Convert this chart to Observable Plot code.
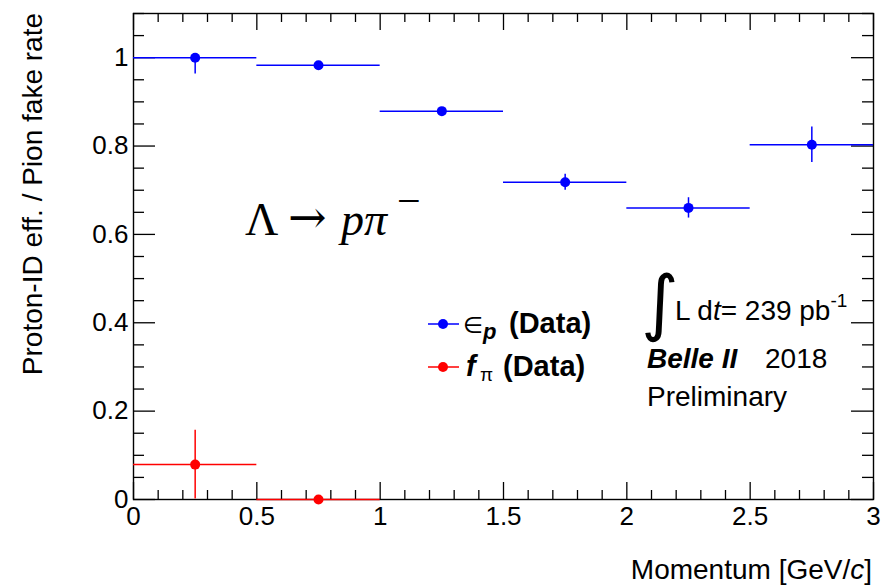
<!DOCTYPE html>
<html><head><meta charset="utf-8">
<script src="https://cdn.jsdelivr.net/npm/d3@7"></script>
<script src="https://cdn.jsdelivr.net/npm/@observablehq/plot@0.6"></script>
<style>
body{margin:0;background:#fff}
svg{font-family:"Liberation Sans",Arial,Helvetica,sans-serif}
</style>
</head><body><div id="chart"></div>
<script>
// Momentum bins (GeV/c)
const binLow    = [0, 0.5, 1.0, 1.5, 2.0, 2.5];
const binHigh   = [0.5, 1.0, 1.5, 2.0, 2.5, 3.0];
const binCenter = [0.25, 0.75, 1.25, 1.75, 2.25, 2.75];
// Proton-ID efficiency (Data)
const protonEff     = [1.000, 0.983, 0.879, 0.718, 0.660, 0.803];
const protonErrLow  = [0.037, 0.005, 0.005, 0.018, 0.023, 0.040];
const protonErrHigh = [0.000, 0.005, 0.005, 0.018, 0.023, 0.040];
// Pion fake rate (Data), first two bins
const pionFake    = [0.079, 0.000];
const pionErrLow  = [0.078, 0.000];
const pionErrHigh = [0.078, 0.000];
// Axis ticks
const xTicks = [0, 0.5, 1, 1.5, 2, 2.5, 3];
const yTicks = [0, 0.2, 0.4, 0.6, 0.8, 1];
const xMinor = d3.range(0, 31).map(i => i / 10).filter(v => !xTicks.some(t => Math.abs(t - v) < 1e-9));
const yMinor = d3.range(0, 23).map(i => i / 20).filter(v => !yTicks.some(t => Math.abs(t - v) < 1e-9));

const proton = binCenter.map((c, i) => ({x: c, x1: binLow[i], x2: binHigh[i], y: protonEff[i], lo: protonEff[i] - protonErrLow[i], hi: protonEff[i] + protonErrHigh[i]}));
const pion = pionFake.map((v, i) => ({x: binCenter[i], x1: binLow[i], x2: binHigh[i], y: v, lo: v - pionErrLow[i], hi: v + pionErrHigh[i]}));

const W = 886, H = 585, mT = 13, mR = 13, mB = 86, mL = 133;
const PH = H - mT - mB, PW = W - mL - mR;
const BLUE = "#0000ff", RED = "#ff0000";

const chart = Plot.plot({
  width: W, height: H,
  marginTop: mT, marginRight: mR, marginBottom: mB, marginLeft: mL,
  x: {domain: [0, 3]},
  y: {domain: [0, 1.1]},
  style: {color: "black", background: "white"},
  marks: [
    Plot.frame({stroke: "black", strokeWidth: 1.4}),
    // inner ticks (ROOT style)
    Plot.tickX(xTicks, {x: d => d, insetTop: PH - 17, stroke: "black", strokeWidth: 1.3}),
    Plot.tickX(xMinor, {x: d => d, insetTop: PH - 9, stroke: "black", strokeWidth: 1.3}),
    Plot.tickX(xTicks, {x: d => d, insetBottom: PH - 17, stroke: "black", strokeWidth: 1.3}),
    Plot.tickX(xMinor, {x: d => d, insetBottom: PH - 9, stroke: "black", strokeWidth: 1.3}),
    Plot.tickY(yTicks, {y: d => d, insetRight: PW - 22, stroke: "black", strokeWidth: 1.3}),
    Plot.tickY(yMinor, {y: d => d, insetRight: PW - 11, stroke: "black", strokeWidth: 1.3}),
    Plot.tickY(yTicks, {y: d => d, insetLeft: PW - 22, stroke: "black", strokeWidth: 1.3}),
    Plot.tickY(yMinor, {y: d => d, insetLeft: PW - 11, stroke: "black", strokeWidth: 1.3}),
    Plot.axisX(xTicks, {tickSize: 0, tickPadding: 7, fontSize: 26, tickFormat: d => String(d), label: null}),
    Plot.axisY(yTicks, {tickSize: 0, tickPadding: 5, fontSize: 26, tickFormat: d => String(d), label: null}),
    // proton efficiency
    Plot.ruleY(proton, {y: "y", x1: "x1", x2: "x2", stroke: BLUE, strokeWidth: 1.5}),
    Plot.ruleX(proton, {x: "x", y1: "lo", y2: "hi", stroke: BLUE, strokeWidth: 1.5}),
    Plot.dot(proton, {x: "x", y: "y", r: 5, fill: BLUE}),
    // pion fake rate
    Plot.ruleY(pion, {y: "y", x1: "x1", x2: "x2", stroke: RED, strokeWidth: 1.5}),
    Plot.ruleX(pion, {x: "x", y1: "lo", y2: "hi", stroke: RED, strokeWidth: 1.5}),
    Plot.dot(pion, {x: "x", y: "y", r: 5, fill: RED})
  ]
});
document.getElementById("chart").appendChild(chart);

const svg = d3.select(chart);
const g = svg.append("g").attr("fill", "black").attr("text-anchor", "start");

// Axis titles
const xl = g.append("text").attr("x", 872).attr("y", 579).attr("text-anchor", "end").attr("font-size", 28);
xl.append("tspan").text("Momentum [GeV/");
xl.append("tspan").attr("font-style", "italic").text("c");
xl.append("tspan").text("]");
g.append("text").attr("transform", "translate(42,13) rotate(-90)").attr("text-anchor", "end")
  .attr("font-size", 28).text("Proton-ID eff. / Pion fake rate");

// Legend
const legend = [
  {color: BLUE, y: 324},
  {color: RED, y: 367}
];
legend.forEach(l => {
  g.append("line").attr("x1", 428).attr("x2", 459).attr("y1", l.y).attr("y2", l.y).attr("stroke", l.color).attr("stroke-width", 1.5);
  g.append("circle").attr("cx", 443).attr("cy", l.y).attr("r", 5).attr("fill", l.color);
});
const t1 = g.append("text").attr("font-size", 29).attr("font-weight", "bold");
t1.append("tspan").attr("x", 463).attr("y", 333).attr("font-weight", "normal").attr("font-family", "DejaVu Sans").attr("font-size", 23).text("∈");
t1.append("tspan").attr("x", 483).attr("y", 339).attr("font-style", "italic").attr("font-size", 22).text("p");
t1.append("tspan").attr("x", 509).attr("y", 333).text("(Data)");
const t2 = g.append("text").attr("font-size", 29).attr("font-weight", "bold");
t2.append("tspan").attr("x", 466).attr("y", 376).attr("font-style", "italic").text("f");
t2.append("tspan").attr("x", 480).attr("y", 381).attr("font-weight", "normal").attr("font-size", 19).text("π");
t2.append("tspan").attr("x", 503).attr("y", 376).text("(Data)");

// Belle II annotation
g.append("text").attr("x", 641).attr("y", 327).attr("font-size", 72).attr("font-family", "DejaVu Sans").text("∫");
const lum = g.append("text").attr("font-size", 28);
lum.append("tspan").attr("x", 675).attr("y", 320).text("L d");
lum.append("tspan").attr("font-style", "italic").text("t");
lum.append("tspan").text("= 239 pb");
lum.append("tspan").attr("dy", -13).attr("font-size", 19).text("-1");
g.append("text").attr("x", 647).attr("y", 368).attr("font-size", 28).attr("font-weight", "bold").attr("font-style", "italic").text("Belle II");
g.append("text").attr("x", 765).attr("y", 368).attr("font-size", 28).text("2018");
g.append("text").attr("x", 647).attr("y", 406).attr("font-size", 28).text("Preliminary");

// Decay label
const dk = g.append("text").attr("font-family", "'Liberation Serif','DejaVu Serif',serif").attr("font-size", 46);
dk.append("tspan").attr("x", 245).attr("y", 235).text("Λ");
dk.append("tspan").attr("x", 288).attr("y", 233).attr("font-family", "'DejaVu Serif',serif").attr("font-size", 46).text("→");
dk.append("tspan").attr("x", 341).attr("y", 235).attr("font-style", "italic").text("pπ");
dk.append("tspan").attr("x", 397).attr("y", 215).attr("font-size", 42).text("−");
</script>
</body></html>
